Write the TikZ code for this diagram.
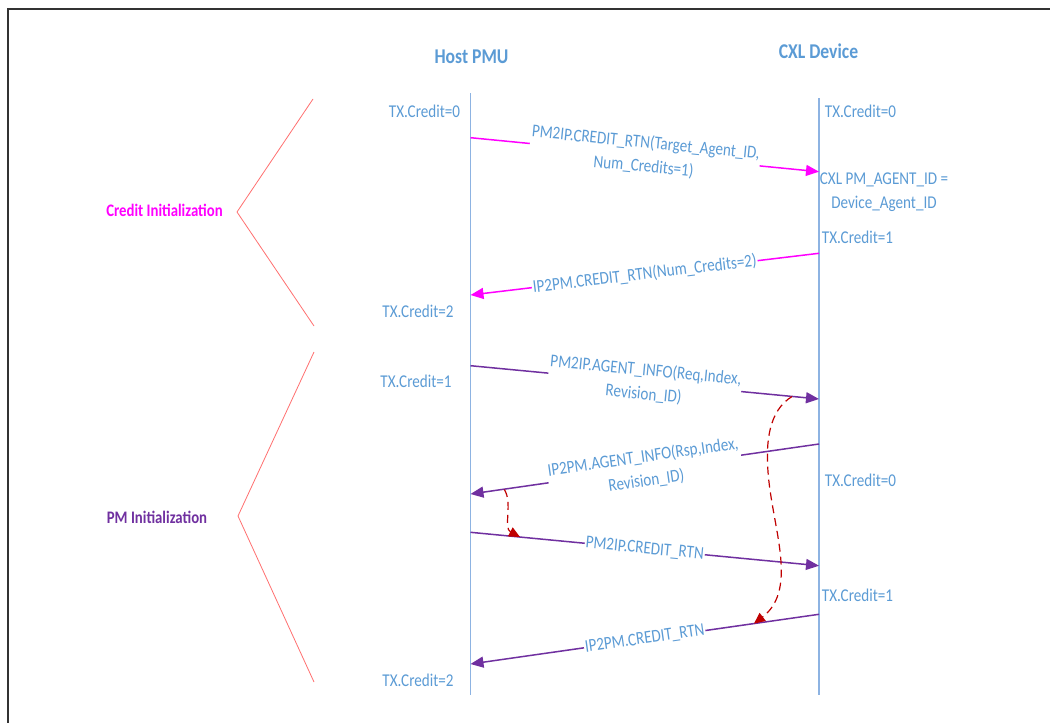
\documentclass[tikz,border=0pt]{standalone}
\usepackage{fontspec}
\setmainfont[FakeStretch=0.84]{Carlito}
\usetikzlibrary{arrows.meta}
\definecolor{txtblue}{HTML}{5B9BD5}
\definecolor{lifeblue}{HTML}{8DB3E2}
\definecolor{mag}{HTML}{FF00FF}
\definecolor{purp}{HTML}{7030A0}
\definecolor{dred}{HTML}{C00000}
\definecolor{brk}{HTML}{FF7070}
\definecolor{framecol}{HTML}{333333}
\begin{document}
\begin{tikzpicture}[x=1pt,y=-1pt,
  lbl/.style={text=txtblue, font=\fontsize{18}{24}\selectfont, inner sep=1pt},
  titlelbl/.style={text=txtblue, font=\bfseries\fontsize{21}{26}\selectfont},
  life/.style={draw=lifeblue, line width=1.4pt},
  msgm/.style={draw=mag, line width=1.5pt, -{Triangle[length=13pt,width=11pt]}},
  msgp/.style={draw=purp, line width=1.5pt, -{Triangle[length=13pt,width=11pt]}},
  msglbl/.style={lbl, fill=white, sloped, align=center, inner sep=1pt},
  depend/.style={draw=dred, line width=1.2pt, dash pattern=on 8pt off 5pt, -{Triangle[length=11pt,width=10pt]}},
  bracket/.style={draw=brk, line width=0.8pt},
  grouplbl/.style={font=\bfseries\fontsize{17.6}{22}\selectfont}
]
\useasboundingbox (0,0) rectangle (1050,723);
\fill[white] (0,0) rectangle (1050,723);
\draw[framecol, line width=2pt] (7.5,723) -- (7.5,9) -- (1050,9);

% titles
\node[titlelbl] (host) at (471.5,56.7) {Host PMU};
\node[titlelbl] (cxl) at (818.5,51.7) {CXL Device};

% lifelines
\coordinate (hT) at (470.5,93);
\coordinate (hB) at (470.5,695);
\coordinate (cT) at (819,98);
\coordinate (cB) at (819,695);
\draw[life] (hT) -- (hB);
\draw[life] (cT) -- (cB);

% state labels
\node[lbl] (h0) at (424.5,111) {TX.Credit=0};
\node[lbl] (c0) at (860.5,111) {TX.Credit=0};
\node[lbl, align=center] (cid) at (884,192) {CXL PM\_AGENT\_ID =\\Device\_Agent\_ID};
\node[lbl] (c1) at (857.5,237) {TX.Credit=1};
\node[lbl] (h2) at (418,311.7) {TX.Credit=2};
\node[lbl] (h1) at (416,381.7) {TX.Credit=1};
\node[lbl] (c0b) at (860.5,480) {TX.Credit=0};
\node[lbl] (c1b) at (857.5,595) {TX.Credit=1};
\node[lbl] (h2b) at (418,680) {TX.Credit=2};

% message end points
\coordinate (m1s) at (470.5,137.7); \coordinate (m1e) at (819,171.7);
\coordinate (m2s) at (819,253.3);   \coordinate (m2e) at (470.5,295);
\coordinate (p1s) at (470.5,365.7); \coordinate (p1e) at (819,399);
\coordinate (p2s) at (819,444);     \coordinate (p2e) at (470.5,494);
\coordinate (p3s) at (470.5,532.3); \coordinate (p3e) at (819,565.7);
\coordinate (p4s) at (819,614.3);   \coordinate (p4e) at (470.5,664);

\draw[msgm] (m1s) -- node[msglbl] (l1) {PM2IP.CREDIT\_RTN(Target\_Agent\_ID,\\Num\_Credits=1)} (m1e);
\draw[msgm] (m2s) -- node[msglbl] (l2) {IP2PM.CREDIT\_RTN(Num\_Credits=2)} (m2e);
\draw[msgp] (p1s) -- node[msglbl] (l3) {PM2IP.AGENT\_INFO(Req,Index,\\Revision\_ID)} (p1e);
\draw[msgp] (p2s) -- node[msglbl] (l4) {IP2PM.AGENT\_INFO(Rsp,Index,\\Revision\_ID)} (p2e);
\draw[msgp] (p3s) -- node[msglbl] (l5) {PM2IP.CREDIT\_RTN} (p3e);
\draw[msgp] (p4s) -- node[msglbl] (l6) {IP2PM.CREDIT\_RTN} (p4e);

% dependency curves
\coordinate (r1s) at (504.3,489.5); \coordinate (r1e) at (520,537);
\coordinate (r2s) at (792,396.5);   \coordinate (r2e) at (754,623.6);
\draw[depend] (r1s) .. controls (513,503) and (503,528) .. (r1e);
\draw[depend] (r2s) .. controls (770,410) and (763,440) .. (770,490) .. controls (777,540) and (795,592) .. (r2e);

% group brackets
\draw[bracket] (313,99) -- (237,212) -- (314,326);
\draw[bracket] (314,352) -- (238,516) -- (314,682);
\node[grouplbl, text=mag] (g1) at (164.5,210) {Credit Initialization};
\node[grouplbl, text=purp] (g2) at (157,517) {PM Initialization};
\end{tikzpicture}
\end{document}
